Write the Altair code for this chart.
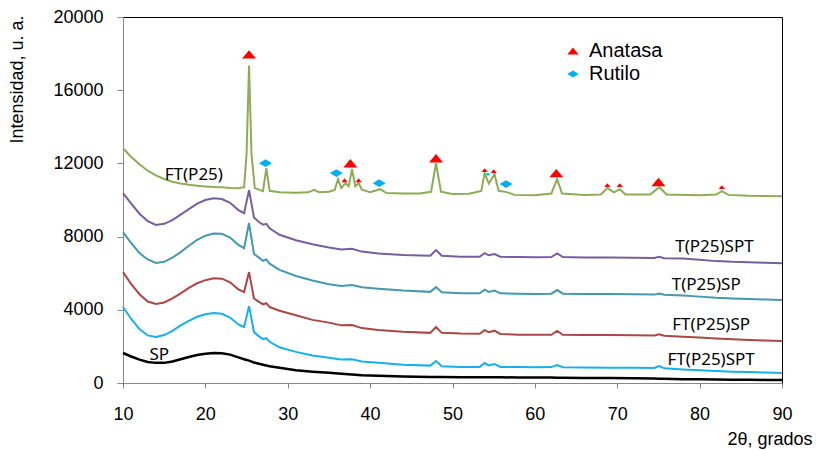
import altair as alt
import pandas as pd

# ---------------- data ----------------
x_common = [10, 11, 12, 13, 14, 15, 16, 17, 18, 19, 20, 21, 22, 23, 24, 24.7, 25.3, 25.9,
            26.5, 27.0, 27.4, 27.8, 29, 31, 33, 35, 36.5, 37.8, 39, 41, 44, 47.3, 48.0, 48.7,
            51, 53.3, 53.9, 54.4, 55.1, 55.8, 58, 60, 62.0, 62.7, 63.4, 66, 69, 72, 74.5,
            75.1, 75.7, 78, 80, 82, 84, 86, 88, 90]

y_t_spt = [10370, 9800, 9250, 8850, 8640, 8700, 8900, 9200, 9500, 9800, 10000, 10100, 10050,
           9850, 9450, 9280, 10540, 9050, 8800, 8650, 8700, 8450, 8100, 7800, 7580, 7400, 7300,
           7330, 7180, 7080, 6990, 6950, 7260, 6950, 6900, 6900, 7100, 6980, 7050, 6900, 6880,
           6870, 6880, 7080, 6880, 6860, 6860, 6850, 6830, 6900, 6820, 6800, 6740, 6660, 6620,
           6600, 6570, 6550]

y_t_sp = [8240, 7650, 7100, 6750, 6560, 6620, 6850, 7150, 7500, 7820, 8050, 8170, 8150, 7950,
          7550, 7370, 8740, 7050, 6850, 6680, 6750, 6520, 6180, 5850, 5600, 5400, 5300, 5350,
          5230, 5150, 5050, 4980, 5240, 4960, 4910, 4900, 5100, 4980, 5050, 4900, 4880, 4870,
          4880, 5080, 4880, 4860, 4860, 4850, 4830, 4890, 4820, 4780, 4720, 4660, 4620, 4590,
          4560, 4530]

y_ft_sp = [6060, 5400, 4850, 4450, 4320, 4400, 4620, 4900, 5200, 5450, 5620, 5720, 5700, 5500,
           5120, 4970, 6060, 4620, 4430, 4300, 4360, 4150, 3950, 3700, 3450, 3300, 3150, 3170,
           3000, 2900, 2800, 2740, 3060, 2740, 2700, 2690, 2890, 2780, 2860, 2680, 2640, 2630,
           2630, 2840, 2630, 2620, 2620, 2610, 2600, 2660, 2580, 2530, 2480, 2430, 2390, 2350,
           2320, 2290]

y_ft_spt = [4150, 3500, 2950, 2600, 2520, 2620, 2850, 3150, 3400, 3620, 3760, 3820, 3780, 3580,
            3200, 3060, 4200, 2780, 2550, 2400, 2450, 2250, 1950, 1700, 1500, 1380, 1280, 1300,
            1170, 1100, 1000, 950, 1200, 920, 880, 880, 1090, 960, 1040, 880, 870, 860, 870, 980,
            860, 850, 840, 830, 820, 930, 800, 740, 690, 650, 620, 600, 570, 550]

y_sp = [1640, 1450, 1280, 1150, 1100, 1100, 1180, 1300, 1420, 1530, 1600, 1640, 1630, 1550,
        1400, 1300, 1220, 1120, 1050, 1000, 960, 920, 830, 700, 620, 560, 500, 460, 420, 390,
        350, 330, 330, 325, 320, 315, 315, 315, 310, 310, 305, 300, 295, 290, 290, 280, 270,
        260, 240, 235, 230, 210, 200, 190, 180, 175, 170, 165]

x_ft = [10, 11, 12, 13, 14, 15, 16, 17, 18, 19, 20, 21, 22, 23, 24, 24.7, 25.0, 25.3, 25.6,
        26.0, 27.0, 27.4, 27.8, 29, 31, 32.5, 33.2, 33.8, 35, 35.7, 36.1, 36.5, 37.0, 37.4,
        37.8, 38.2, 38.6, 39.0, 40, 41.2, 42, 44, 46, 47.4, 48.0, 48.6, 50, 52, 53.5, 53.9,
        54.4, 55.1, 55.6, 56.6, 57.5, 60, 62.0, 62.7, 63.3, 66, 68, 68.8, 69.6, 70.3, 71, 74,
        75.1, 76, 80, 82.0, 82.7, 83.5, 86, 90]
y_ft = [12830, 12350, 11950, 11600, 11350, 11150, 11000, 10900, 10830, 10780, 10740, 10710,
        10690, 10660, 10640, 10700, 12500, 17350, 12500, 10650, 10480, 11740, 10500, 10420,
        10400, 10420, 10560, 10420, 10450, 10550, 11140, 10650, 10920, 10750, 11680, 10750,
        10920, 10560, 10420, 10590, 10380, 10360, 10350, 10450, 12010, 10450, 10330, 10340,
        10500, 11470, 10900, 11410, 10500, 10430, 10280, 10260, 10350, 11140, 10350, 10270,
        10300, 10650, 10420, 10590, 10300, 10300, 10700, 10300, 10260, 10300, 10480, 10280,
        10230, 10210]

series_names = ["SP", "FT(P25)SPT", "FT(P25)SP", "T(P25)SP", "T(P25)SPT", "FT(P25)"]
series_colors = ["#000000", "#17b0ec", "#ab4745", "#4499b0", "#75609e", "#90ab55"]
series_widths = [2.5, 2, 2, 2, 2, 2]

# label positions (data coords) for series names
label_x = [14.4, 81.4, 81.4, 80.8, 81.8, 18.6]
label_y = [1530, 1260, 3170, 5350, 7430, 11360]

anatasa_x = [25.3, 36.9, 37.6, 38.6, 48.0, 53.9, 55.0, 62.6, 68.8, 70.3, 75.0, 82.7]
anatasa_y = [17960, 11080, 12010, 11080, 12280, 11630, 11580, 11470, 10810, 10810, 10980, 10700]
anatasa_big = [1, 0, 1, 0, 1, 0, 0, 1, 0, 0, 1, 0]

rutilo_x = [27.3, 35.9, 41.1, 54.3, 56.5]
rutilo_y = [12010, 11470, 10920, 11410, 10870]
rutilo_big = [1, 1, 1, 0, 1]

# ---------------- tables ----------------
rows = []
curves = [
    ("SP", x_common, y_sp),
    ("FT(P25)SPT", x_common, y_ft_spt),
    ("FT(P25)SP", x_common, y_ft_sp),
    ("T(P25)SP", x_common, y_t_sp),
    ("T(P25)SPT", x_common, y_t_spt),
    ("FT(P25)", x_ft, y_ft),
]
for (name, xs, ys), w in zip(curves, series_widths):
    for xv, yv in zip(xs, ys):
        rows.append({"serie": name, "x": xv, "y": yv, "w": w})
lines_df = pd.DataFrame(rows)

labels_df = pd.DataFrame({"serie": series_names, "x": label_x, "y": label_y})

mk = []
for xv, yv, b in zip(anatasa_x, anatasa_y, anatasa_big):
    mk.append({"fase": "Anatasa", "x": xv, "y": yv, "s": 196 if b else 40})
for xv, yv, b in zip(rutilo_x, rutilo_y, rutilo_big):
    mk.append({"fase": "Rutilo", "x": xv, "y": yv, "s": 169 if b else 25})
markers_df = pd.DataFrame(mk)

TRI = "M-1,0.6L1,0.6L0,-0.6Z"
DIA = "M-1,0L0,-0.6L1,0L0,0.6Z"

xscale = alt.Scale(domain=[10, 90], nice=False, zero=False)
yscale = alt.Scale(domain=[0, 20000], nice=False)

xaxis = alt.Axis(values=list(range(10, 91, 10)), title="2θ, grados", grid=False,
                 labelFontSize=18, labelFont="Liberation Sans", labelPadding=17,
                 tickSize=5, domainColor="#888888", tickColor="#888888", labelColor="#000000",
                 titleFontSize=18, titleFont="Liberation Sans", titleFontWeight="normal",
                 titleX=689, titleY=56, titleAlign="right", titleBaseline="middle",
                 labelFlush=False)
yaxis = alt.Axis(values=list(range(0, 20001, 4000)), format="d", title="Intensidad, u. a.",
                 grid=False, labelFontSize=18, labelFont="Liberation Sans", labelPadding=14,
                 tickSize=6, domainColor="#888888", tickColor="#888888", labelColor="#000000",
                 titleFontSize=18, titleFont="Liberation Sans", titleFontWeight="normal",
                 titleX=-106, titleY=62, titleAngle=-90, titleAlign="center",
                 titleBaseline="middle")

lines = alt.Chart(lines_df).mark_line().encode(
    x=alt.X("x:Q", scale=xscale, axis=xaxis),
    y=alt.Y("y:Q", scale=yscale, axis=yaxis),
    stroke=alt.Stroke("serie:N", scale=alt.Scale(domain=series_names, range=series_colors),
                      legend=None),
    strokeWidth=alt.StrokeWidth("w:Q", scale=None, legend=None),
    detail="serie:N",
)

labels = alt.Chart(labels_df).mark_text(font="Noto Sans", fontSize=17, color="#000000",
                                         align="center", baseline="middle").encode(
    x=alt.X("x:Q", scale=xscale),
    y=alt.Y("y:Q", scale=yscale),
    text="serie:N",
)

leg = alt.Legend(title=None, orient="none", legendX=440, legendY=24,
                 labelFontSize=20, labelFont="Liberation Sans",
                 symbolSize=130, labelOffset=6, rowPadding=3, symbolStrokeWidth=0)

markers = alt.Chart(markers_df).mark_point(filled=True, opacity=1, strokeWidth=0).encode(
    x=alt.X("x:Q", scale=xscale),
    y=alt.Y("y:Q", scale=yscale),
    color=alt.Color("fase:N", scale=alt.Scale(domain=["Anatasa", "Rutilo"],
                                              range=["#ff0000", "#00b0f0"]), legend=leg),
    shape=alt.Shape("fase:N", scale=alt.Scale(domain=["Anatasa", "Rutilo"], range=[TRI, DIA]),
                    legend=leg),
    size=alt.Size("s:Q", scale=None, legend=None),
)

chart = alt.layer(lines, labels, markers).properties(
    width=659, height=366,
    autosize=alt.AutoSizeParams(type="none"),
    padding={"left": 123, "top": 17, "right": 35, "bottom": 67},
    background="#ffffff",
).configure_view(stroke="#000000", strokeWidth=1)

chart.save("out.html", embed_options={"renderer": "svg", "actions": False})
